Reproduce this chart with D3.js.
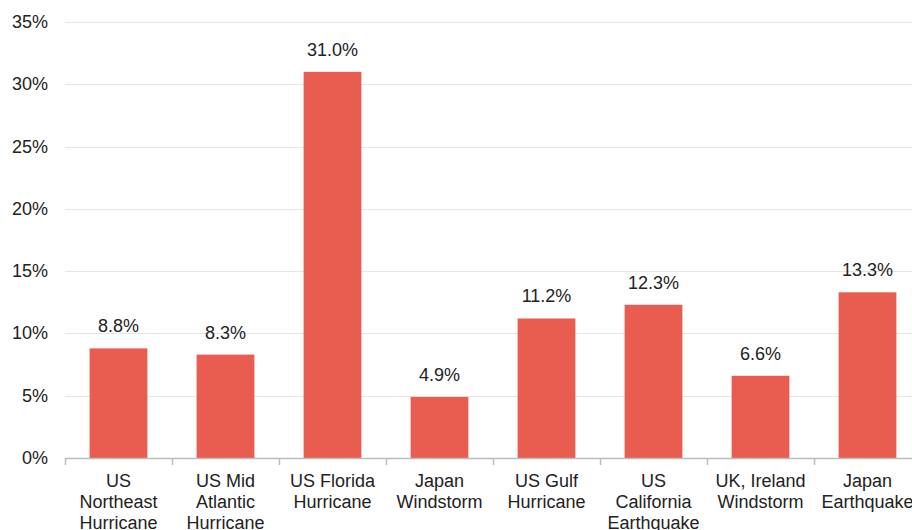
<!DOCTYPE html>
<html lang="en">
<head>
    <meta charset="UTF-8">
    <title>Cat loss share by peril</title>
    <script src="https://d3js.org/d3.v7.min.js"></script>
    <style>
        body {
            margin: 0;
            padding: 0;
            background: white;
            font-family: 'Liberation Sans', Arial, sans-serif;
            overflow: hidden;
        }
        .grid line { stroke: #e6e6e6; stroke-width: 1px; }
        .tick-label { font-size: 18px; fill: #222; }
        .value-label { font-size: 18px; fill: #222; text-anchor: middle; }
        .bar { fill: #e85d4f; }
    </style>
</head>
<body>
    <script>
        // values
        var categories = [
            "US Northeast Hurricane",
            "US Mid Atlantic Hurricane",
            "US Florida Hurricane",
            "Japan Windstorm",
            "US Gulf Hurricane",
            "US California Earthquake",
            "UK, Ireland Windstorm",
            "Japan Earthquake"
        ];
        var labelLines = [
            ["US", "Northeast", "Hurricane"],
            ["US Mid", "Atlantic", "Hurricane"],
            ["US Florida", "Hurricane"],
            ["Japan", "Windstorm"],
            ["US Gulf", "Hurricane"],
            ["US", "California", "Earthquake"],
            ["UK, Ireland", "Windstorm"],
            ["Japan", "Earthquake"]
        ];
        var values = [8.8, 8.3, 31.0, 4.9, 11.2, 12.3, 6.6, 13.3];
        var yTicks = [0, 5, 10, 15, 20, 25, 30, 35];

        var width = 912, height = 530;
        var mLeft = 65, mRight = 921, mTop = 22, mBottom = 458;

        var svg = d3.select("body").append("svg")
            .attr("width", width)
            .attr("height", height);

        var x = d3.scaleBand()
            .domain(categories)
            .range([mLeft, mRight])
            .paddingInner(0.46)
            .paddingOuter(0.23);

        var y = d3.scaleLinear()
            .domain([0, 35])
            .range([mBottom, mTop]);

        // gridlines
        svg.append("g")
            .attr("class", "grid")
            .selectAll("line")
            .data(yTicks.filter(function(d) { return d > 0; }))
            .enter().append("line")
            .attr("x1", mLeft)
            .attr("x2", mRight)
            .attr("y1", function(d) { return Math.round(y(d)) + 0.5; })
            .attr("y2", function(d) { return Math.round(y(d)) + 0.5; });

        // y tick labels
        svg.append("g")
            .selectAll("text")
            .data(yTicks)
            .enter().append("text")
            .attr("class", "tick-label")
            .attr("x", 48)
            .attr("y", function(d) { return y(d) + 6; })
            .attr("text-anchor", "end")
            .text(function(d) { return d + "%"; });

        // bars
        svg.append("g")
            .selectAll("rect")
            .data(values)
            .enter().append("rect")
            .attr("class", "bar")
            .attr("x", function(d, i) { return x(categories[i]); })
            .attr("width", x.bandwidth())
            .attr("y", function(d) { return y(d); })
            .attr("height", function(d) { return mBottom - y(d); });

        // value labels
        svg.append("g")
            .selectAll("text")
            .data(values)
            .enter().append("text")
            .attr("class", "value-label")
            .attr("x", function(d, i) { return x(categories[i]) + x.bandwidth() / 2; })
            .attr("y", function(d) { return y(d) - 16; })
            .text(function(d) { return d.toFixed(1) + "%"; });

        // x axis line + ticks between bands
        var axis = svg.append("g").attr("stroke", "#bdbdbd").attr("stroke-width", 1.5);
        axis.append("line")
            .attr("x1", mLeft).attr("x2", mRight)
            .attr("y1", mBottom + 0.5).attr("y2", mBottom + 0.5);
        axis.selectAll(".xt")
            .data(d3.range(categories.length + 1))
            .enter().append("line")
            .attr("class", "xt")
            .attr("x1", function(i) { return Math.round(mLeft + i * x.step()) + 0.5; })
            .attr("x2", function(i) { return Math.round(mLeft + i * x.step()) + 0.5; })
            .attr("y1", mBottom)
            .attr("y2", mBottom + 7);

        // category labels, wrapped
        var cat = svg.append("g")
            .selectAll("text")
            .data(categories)
            .enter().append("text")
            .attr("class", "value-label")
            .attr("x", function(d) { return x(d) + x.bandwidth() / 2; })
            .attr("y", 487);
        cat.each(function(d, i) {
            var t = d3.select(this);
            labelLines[i].forEach(function(line, j) {
                t.append("tspan")
                    .attr("x", x(d) + x.bandwidth() / 2)
                    .attr("dy", j === 0 ? 0 : 21)
                    .text(line);
            });
        });
    </script>
</body>
</html>
